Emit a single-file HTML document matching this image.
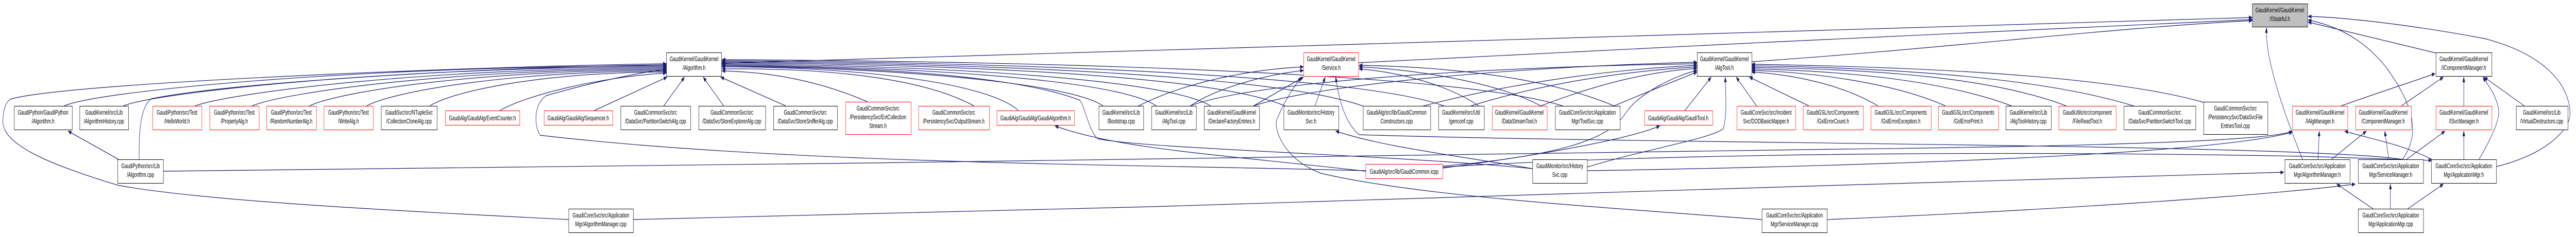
<!DOCTYPE html>
<html><head><meta charset="utf-8"><style>
html,body{margin:0;padding:0;background:#fff;width:7828px;height:459px;overflow:hidden;}
svg{display:block;width:100vw;height:100vh;}
text{font-family:"Liberation Sans",Arial,sans-serif;font-size:13px;fill:#000;text-anchor:middle;}
.e{fill:none;stroke:#191970;stroke-width:1.2;marker-end:url(#ah);}
.b{fill:#fff;stroke:#000;stroke-width:1;}
.r{fill:#fff;stroke:#ff0000;stroke-width:1;}
.g{fill:#bfbfbf;stroke:#000;stroke-width:1;}
</style></head><body>
<svg width="7828" height="459" viewBox="0 0 7828 459" preserveAspectRatio="none" xmlns="http://www.w3.org/2000/svg">
<defs><marker id="ah" markerWidth="11" markerHeight="8" refX="10" refY="4" orient="auto" markerUnits="userSpaceOnUse"><path d="M0,0 L11,4 L0,8 z" fill="#191970"/></marker></defs>

<path class="e" d="M195,206 C300,176 1110,128 2025,128"/>
<path class="e" d="M375,206 C470,180 1200,130 2025,130"/>
<path class="e" d="M593,206 C700,180 1310,132 2025,132"/>
<path class="e" d="M766,206 C870,178 1400,134 2025,134"/>
<path class="e" d="M940,206 C1040,176 1480,136 2025,136"/>
<path class="e" d="M1114,206 C1200,176 1570,138 2025,138"/>
<path class="e" d="M1306,206 C1380,176 1660,140 2025,140"/>
<path class="e" d="M1519,215 C1600,185 1820,150 2025,142"/>
<path class="e" d="M1806,215 L2027,150"/>
<path class="e" d="M2017,206 L2080,150"/>
<path class="e" d="M2199,206 L2137,150"/>
<path class="e" d="M2388,206 L2190,150"/>
<path class="e" d="M2636,198 C2500,160 2350,140 2194,138"/>
<path class="e" d="M2960,206 C2800,150 2500,132 2194,134"/>
<path class="e" d="M3095,215 C3000,160 2600,130 2194,130"/>
<path class="e" d="M3352,206 C3250,160 2700,132 2194,128"/>
<path class="e" d="M3514,206 C3400,155 2800,130 2194,126"/>
<path class="e" d="M3679,206 C3550,155 2900,128 2194,124"/>
<path class="e" d="M3905,206 C3700,150 3000,126 2194,122"/>
<path class="e" d="M4145,207 C3900,150 3100,124 2194,120"/>
<path class="e" d="M4388,206 C4150,150 3200,122 2194,118"/>
<path class="e" d="M4749,206 C4450,145 3300,120 2194,116"/>
<path class="e" d="M423,310 C421,250 430,205 460,192 C700,160 1500,130 2025,126"/>
<path class="e" d="M360,310 L207,255"/>
<path class="e" d="M1728,427 C1200,410 600,390 357,360 C150,320 0,280 9,233 C10,210 20,198 31,193 C200,160 1500,128 2025,124"/>
<path class="e" d="M4150,332 C3500,320 2400,320 1641,263 C1620,240 1625,200 1660,186 C1800,160 1950,140 2025,135"/>
<path class="e" d="M4657,328 C4200,300 3500,290 3336,270 C3310,255 3300,215 3282,195 C3100,150 2700,130 2194,128"/>
<path class="e" d="M4150,333 C3700,300 3400,290 3206,245"/>
<path class="e" d="M496,333 C2000,325 5000,295 5600,290 C6300,285 6900,275 6966,255"/>
<path class="e" d="M4384,325 C5000,300 6000,292 7000,304 L7390,312"/>

<path class="e" d="M3460,206 C3600,160 3800,135 3961,130"/>
<path class="e" d="M3617,206 C3700,170 3850,145 3961,137"/>
<path class="e" d="M3809,206 L3961,150"/>
<path class="e" d="M3996,206 L4027,150"/>
<path class="e" d="M7300,310 C7000,280 5000,280 4130,262 C4090,240 4070,200 4059,150"/>
<path class="e" d="M5354,427 C4800,400 4300,380 4014,337 C3900,310 3870,250 3880,233 C3900,200 3930,170 3955,150"/>
<path class="e" d="M4494,206 C4400,165 4250,140 4130,134"/>
<path class="e" d="M4682,206 C4550,160 4300,135 4130,130"/>
<path class="e" d="M4905,206 C4700,150 4400,130 4130,127"/>

<path class="e" d="M4128,122 C5000,95 6000,60 6844,38"/>
<path class="e" d="M2192,123 C4000,90 5800,50 6844,34"/>
<path class="e" d="M5323,120 C5900,95 6400,55 6844,40"/>
<path class="e" d="M7402,103 L7014,43"/>
<path class="e" d="M7300,310 C7360,260 7330,200 7250,130 C7180,75 7100,50 7014,39"/>
<path class="e" d="M7586,324 C7740,300 7812,250 7810,220 C7806,150 7700,100 7550,75 C7300,45 7100,33 7014,32"/>
<path class="e" d="M6997,310 C6960,250 6880,120 6888,54"/>

<path class="e" d="M4320,207 C4600,160 4900,135 5157,127"/>
<path class="e" d="M4470,206 C4700,160 4950,138 5157,130"/>
<path class="e" d="M4682,206 C4850,165 5000,140 5157,133"/>
<path class="e" d="M4905,206 C5000,180 5100,155 5157,140"/>
<path class="e" d="M4384,323 C4800,300 4900,260 4940,220 C4980,180 5100,145 5157,137"/>
<path class="e" d="M3617,206 C3800,160 4500,130 5157,124"/>
<path class="e" d="M3809,206 C4000,165 4600,130 5157,121"/>
<path class="e" d="M5120,215 L5200,150"/>
<path class="e" d="M4823,325 C5000,290 5200,270 5237,250 C5250,220 5243,180 5243,150"/>
<path class="e" d="M5338,206 L5276,150"/>
<path class="e" d="M5497,206 L5316,150"/>
<path class="e" d="M5707,206 C5600,165 5450,145 5323,140"/>
<path class="e" d="M5912,206 C5750,160 5500,140 5323,137"/>
<path class="e" d="M6113,206 C5900,155 5600,138 5323,134"/>
<path class="e" d="M6279,206 C6050,150 5700,135 5323,131"/>
<path class="e" d="M6484,206 C6200,150 5750,132 5323,128"/>
<path class="e" d="M6696,199 C6400,145 5800,130 5323,125"/>
<path class="e" d="M4384,327 C4700,300 4950,270 5044,245"/>
<path class="e" d="M4657,328 C4400,300 4200,285 4059,255"/>
<path class="e" d="M4823,332 C5500,325 6700,305 6966,257"/>

<path class="e" d="M7114,206 C7250,175 7350,155 7400,143"/>
<path class="e" d="M7297,206 L7425,150"/>
<path class="e" d="M7487,206 L7487,150"/>
<path class="e" d="M7533,310 C7570,270 7600,230 7592,210 C7585,185 7560,165 7545,150"/>
<path class="e" d="M7671,206 L7549,150"/>

<path class="e" d="M7044,310 L7048,255"/>
<path class="e" d="M7390,310 C7300,280 7200,270 7125,255"/>
<path class="e" d="M7085,310 L7191,255"/>
<path class="e" d="M7259,310 L7247,255"/>
<path class="e" d="M7313,310 L7430,255"/>
<path class="e" d="M7487,310 L7487,255"/>
<path class="e" d="M7211,406 L7101,358"/>
<path class="e" d="M7264,406 L7264,358"/>
<path class="e" d="M7317,406 L7425,358"/>
<path class="e" d="M5552,427 C6200,410 6900,380 7157,358"/>
<path class="e" d="M1924,427 C3000,410 5000,380 5600,360 C6200,350 6800,340 6940,335"/>

<g>
<rect class="g" x="6844.5" y="7.5" width="168" height="45"/><text x="6928" y="24">GaudiKernel/GaudiKernel</text><text x="6928" y="41">/IStateful.h</text>

<rect class="b" x="2025.5" y="102.5" width="167" height="46"/><text x="2109" y="119">GaudiKernel/GaudiKernel</text><text x="2109" y="136">/Algorithm.h</text>
<rect class="r" x="3961.5" y="102.5" width="167" height="46"/><text x="4045" y="119">GaudiKernel/GaudiKernel</text><text x="4045" y="136">/Service.h</text>
<rect class="b" x="5157.5" y="102.5" width="166" height="46"/><text x="5240" y="119">GaudiKernel/GaudiKernel</text><text x="5240" y="136">/AlgTool.h</text>
<rect class="b" x="7402.5" y="102.5" width="170" height="46"/><text x="7487" y="119">GaudiKernel/GaudiKernel</text><text x="7487" y="136">/IComponentManager.h</text>

<rect class="b" x="43.5" y="206.5" width="176" height="46"/><text x="131" y="223">GaudiPython/GaudiPython</text><text x="131" y="240">/Algorithm.h</text>
<rect class="b" x="242.5" y="206.5" width="148" height="46"/><text x="316" y="223">GaudiKernel/src/Lib</text><text x="316" y="240">/AlgorithmHistory.cpp</text>
<rect class="r" x="464.5" y="206.5" width="149" height="46"/><text x="538" y="223">GaudiPython/src/Test</text><text x="538" y="240">/HelloWorld.h</text>
<rect class="r" x="637.5" y="206.5" width="150" height="46"/><text x="712" y="223">GaudiPython/src/Test</text><text x="712" y="240">/PropertyAlg.h</text>
<rect class="r" x="810.5" y="206.5" width="151" height="46"/><text x="885" y="223">GaudiPython/src/Test</text><text x="885" y="240">/RandomNumberAlg.h</text>
<rect class="r" x="984.5" y="206.5" width="150" height="46"/><text x="1059" y="223">GaudiPython/src/Test</text><text x="1059" y="240">/WriteAlg.h</text>
<rect class="b" x="1158.5" y="206.5" width="170" height="46"/><text x="1243" y="223">GaudiSvc/src/NTupleSvc</text><text x="1243" y="240">/CollectionCloneAlg.cpp</text>
<rect class="r" x="1353.5" y="215.5" width="226" height="28"/><text x="1466" y="234">GaudiAlg/GaudiAlg/EventCounter.h</text>
<rect class="r" x="1653.5" y="215.5" width="209" height="28"/><text x="1757" y="234">GaudiAlg/GaudiAlg/Sequencer.h</text>
<rect class="b" x="1886.5" y="206.5" width="212" height="46"/><text x="1992" y="223">GaudiCommonSvc/src</text><text x="1992" y="240">/DataSvc/PartitionSwitchAlg.cpp</text>
<rect class="b" x="2123.5" y="206.5" width="203" height="46"/><text x="2224" y="223">GaudiCommonSvc/src</text><text x="2224" y="240">/DataSvc/StoreExplorerAlg.cpp</text>
<rect class="b" x="2350.5" y="206.5" width="194" height="46"/><text x="2447" y="223">GaudiCommonSvc/src</text><text x="2447" y="240">/DataSvc/StoreSnifferAlg.cpp</text>
<rect class="r" x="2569.5" y="198.5" width="199" height="63"/><text x="2668" y="215">GaudiCommonSvc/src</text><text x="2668" y="232">/PersistencySvc/EvtCollection</text><text x="2668" y="249">Stream.h</text>
<rect class="r" x="2791.5" y="206.5" width="215" height="46"/><text x="2898" y="223">GaudiCommonSvc/src</text><text x="2898" y="240">/PersistencySvc/OutputStream.h</text>
<rect class="r" x="3029.5" y="215.5" width="236" height="28"/><text x="3147" y="234">GaudiAlg/GaudiAlg/GaudiAlgorithm.h</text>
<rect class="b" x="3339.5" y="206.5" width="136" height="46"/><text x="3407" y="223">GaudiKernel/src/Lib</text><text x="3407" y="240">/Bootstrap.cpp</text>
<rect class="b" x="3499.5" y="206.5" width="136" height="46"/><text x="3567" y="223">GaudiKernel/src/Lib</text><text x="3567" y="240">/AlgTool.cpp</text>
<rect class="b" x="3659.5" y="206.5" width="168" height="46"/><text x="3743" y="223">GaudiKernel/GaudiKernel</text><text x="3743" y="240">/DeclareFactoryEntries.h</text>
<rect class="b" x="3901.5" y="206.5" width="167" height="46"/><text x="3984" y="223">GaudiMonitor/src/History</text><text x="3984" y="240">Svc.h</text>
<rect class="b" x="4142.5" y="206.5" width="205" height="46"/><text x="4244" y="223">GaudiAlg/src/lib/GaudiCommon</text><text x="4244" y="240">Constructors.cpp</text>
<rect class="b" x="4371.5" y="206.5" width="139" height="46"/><text x="4440" y="223">GaudiKernel/src/Util</text><text x="4440" y="240">/genconf.cpp</text>
<rect class="r" x="4534.5" y="206.5" width="167" height="46"/><text x="4617" y="223">GaudiKernel/GaudiKernel</text><text x="4617" y="240">/DataStreamTool.h</text>
<rect class="b" x="4726.5" y="206.5" width="197" height="46"/><text x="4824" y="223">GaudiCoreSvc/src/Application</text><text x="4824" y="240">Mgr/ToolSvc.cpp</text>
<rect class="r" x="4997.5" y="215.5" width="207" height="28"/><text x="5100" y="234">GaudiAlg/GaudiAlg/GaudiTool.h</text>
<rect class="r" x="5278.5" y="206.5" width="178" height="46"/><text x="5367" y="223">GaudiCoreSvc/src/Incident</text><text x="5367" y="240">Svc/DODBasicMapper.h</text>
<rect class="r" x="5479.5" y="206.5" width="183" height="46"/><text x="5570" y="223">GaudiGSL/src/Components</text><text x="5570" y="240">/GslErrorCount.h</text>
<rect class="r" x="5685.5" y="206.5" width="183" height="46"/><text x="5776" y="223">GaudiGSL/src/Components</text><text x="5776" y="240">/GslErrorException.h</text>
<rect class="r" x="5890.5" y="206.5" width="183" height="46"/><text x="5981" y="223">GaudiGSL/src/Components</text><text x="5981" y="240">/GslErrorPrint.h</text>
<rect class="b" x="6095.5" y="206.5" width="138" height="46"/><text x="6164" y="223">GaudiKernel/src/Lib</text><text x="6164" y="240">/AlgToolHistory.cpp</text>
<rect class="r" x="6256.5" y="206.5" width="174" height="46"/><text x="6343" y="223">GaudiUtils/src/component</text><text x="6343" y="240">/FileReadTool.h</text>
<rect class="b" x="6454.5" y="206.5" width="218" height="46"/><text x="6563" y="223">GaudiCommonSvc/src</text><text x="6563" y="240">/DataSvc/PartitionSwitchTool.cpp</text>
<rect class="b" x="6696.5" y="198.5" width="195" height="63"/><text x="6793" y="215">GaudiCommonSvc/src</text><text x="6793" y="232">/PersistencySvc/DataSvcFile</text><text x="6793" y="249">EntriesTool.cpp</text>
<rect class="r" x="6966.5" y="206.5" width="168" height="46"/><text x="7050" y="223">GaudiKernel/GaudiKernel</text><text x="7050" y="240">/IAlgManager.h</text>
<rect class="r" x="7158.5" y="206.5" width="169" height="46"/><text x="7242" y="223">GaudiKernel/GaudiKernel</text><text x="7242" y="240">/ComponentManager.h</text>
<rect class="r" x="7402.5" y="206.5" width="170" height="46"/><text x="7487" y="223">GaudiKernel/GaudiKernel</text><text x="7487" y="240">/ISvcManager.h</text>
<rect class="b" x="7646.5" y="206.5" width="157" height="46"/><text x="7724" y="223">GaudiKernel/src/Lib</text><text x="7724" y="240">/VirtualDestructors.cpp</text>

<rect class="b" x="357.5" y="310.5" width="139" height="46"/><text x="427" y="327">GaudiPython/src/Lib</text><text x="427" y="344">/Algorithm.cpp</text>
<rect class="r" x="4150.5" y="319.5" width="234" height="28"/><text x="4267" y="338">GaudiAlg/src/lib/GaudiCommon.icpp</text>
<rect class="b" x="4657.5" y="310.5" width="166" height="46"/><text x="4740" y="327">GaudiMonitor/src/History</text><text x="4740" y="344">Svc.cpp</text>
<rect class="b" x="6943.5" y="310.5" width="198" height="46"/><text x="7042" y="327">GaudiCoreSvc/src/Application</text><text x="7042" y="344">Mgr/AlgorithmManager.h</text>
<rect class="b" x="7166.5" y="310.5" width="198" height="46"/><text x="7265" y="327">GaudiCoreSvc/src/Application</text><text x="7265" y="344">Mgr/ServiceManager.h</text>
<rect class="b" x="7388.5" y="310.5" width="198" height="46"/><text x="7487" y="327">GaudiCoreSvc/src/Application</text><text x="7487" y="344">Mgr/ApplicationMgr.h</text>

<rect class="b" x="1728.5" y="406.5" width="196" height="46"/><text x="1826" y="423">GaudiCoreSvc/src/Application</text><text x="1826" y="440">Mgr/AlgorithmManager.cpp</text>
<rect class="b" x="5354.5" y="406.5" width="198" height="46"/><text x="5453" y="423">GaudiCoreSvc/src/Application</text><text x="5453" y="440">Mgr/ServiceManager.cpp</text>
<rect class="b" x="7166.5" y="406.5" width="198" height="46"/><text x="7265" y="423">GaudiCoreSvc/src/Application</text><text x="7265" y="440">Mgr/ApplicationMgr.cpp</text>
</g>
</svg>
</body></html>
